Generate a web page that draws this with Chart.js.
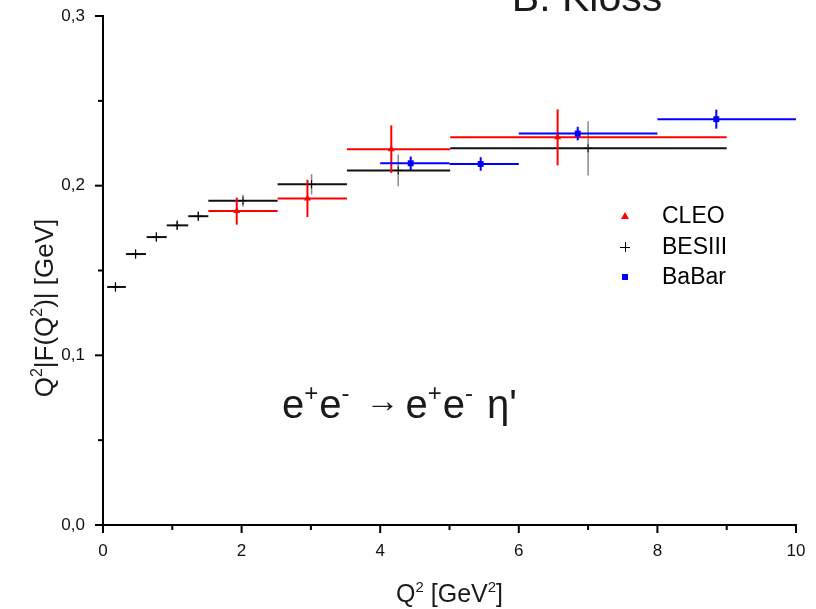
<!DOCTYPE html>
<html>
<head>
<meta charset="utf-8">
<script src="https://cdn.jsdelivr.net/npm/chart.js"></script>
<style>
  html, body { margin: 0; padding: 0; background: #fff; }
  canvas { display: block; }
</style>
</head>
<body>
<canvas id="c" width="816" height="609"></canvas>
<script>
// ---- data ----
const seriesNames = ['CLEO', 'BESIII', 'BaBar'];

const cleoQ2   = [1.93, 2.95, 4.16, 6.56];
const cleoQ2Lo = [1.52, 2.52, 3.52, 5.01];
const cleoQ2Hi = [2.52, 3.52, 5.01, 9.00];
const cleoF    = [0.185, 0.1925, 0.2215, 0.2285];
const cleoErr  = [0.008, 0.011, 0.014, 0.0165];

const besQ2   = [0.18, 0.47, 0.77, 1.07, 1.375, 2.02, 3.01, 4.26, 7.00];
const besQ2Lo = [0.06, 0.33, 0.63, 0.92, 1.23, 1.52, 2.52, 3.52, 5.01];
const besQ2Hi = [0.33, 0.62, 0.92, 1.23, 1.52, 2.52, 3.52, 5.01, 9.00];
const besF    = [0.1403, 0.1597, 0.1697, 0.1766, 0.182, 0.1911, 0.2008, 0.2090, 0.2220];
const besErr  = [0.0028, 0.0028, 0.0028, 0.0028, 0.0028, 0.0035, 0.006, 0.0094, 0.016];

const babarQ2   = [4.44, 5.45, 6.85, 8.85];
const babarQ2Lo = [4.0, 5.0, 6.0, 8.0];
const babarQ2Hi = [5.0, 6.0, 8.0, 10.0];
const babarF    = [0.2132, 0.2128, 0.2307, 0.2392];
const babarErr  = [0.004, 0.004, 0.004, 0.0056];

const xTickValues = [0, 2, 4, 6, 8, 10];
const xTickLabels = ['0', '2', '4', '6', '8', '10'];
const xMinorTicks = [1, 3, 5, 7, 9];
const yTickValues = [0, 0.1, 0.2, 0.3];
const yTickLabels = ['0,0', '0,1', '0,2', '0,3'];
const yMinorTicks = [0.05, 0.15, 0.25];

const titleText = 'B. Kloss';

// ---- build points ----
function pts(q, lo, hi, f, e) {
  return q.map((v, i) => ({ x: v, y: f[i], xMin: lo[i], xMax: hi[i], yErr: e[i] }));
}

const FONT = '"Liberation Sans", Arial, Helvetica, sans-serif';

const errorBars = {
  id: 'errorBars',
  beforeDatasetsDraw(chart) {
    const { ctx } = chart;
    const xs = chart.scales.x, ys = chart.scales.y;
    const sets = chart.data.datasets.slice().sort((a, b) => b.order - a.order);
    sets.forEach(ds => {
      ctx.save();
      ds.data.forEach(p => {
        const px = xs.getPixelForValue(p.x), py = ys.getPixelForValue(p.y);
        ctx.strokeStyle = ds.hColor; ctx.lineWidth = ds.hWidth;
        ctx.beginPath();
        ctx.moveTo(xs.getPixelForValue(p.xMin), py);
        ctx.lineTo(xs.getPixelForValue(p.xMax), py);
        ctx.stroke();
        const wide = (p.xMax - p.xMin) > 0.5;
        ctx.strokeStyle = (wide && ds.vColorWide) ? ds.vColorWide : ds.vColor;
        ctx.lineWidth = (wide && ds.vWidthWide) ? ds.vWidthWide : ds.vWidth;
        ctx.beginPath();
        ctx.moveTo(px, ys.getPixelForValue(p.y - p.yErr));
        ctx.lineTo(px, ys.getPixelForValue(p.y + p.yErr));
        ctx.stroke();
      });
      ctx.restore();
    });
  }
};

function drawRich(ctx, parts, size, x, y, align) {
  const supSize = Math.round(size * 0.6);
  let w = 0;
  parts.forEach(p => {
    ctx.font = (p.sup ? supSize : (p.size || size)) + 'px ' + FONT;
    w += ctx.measureText(p.t).width + (p.gap || 0);
  });
  let cx = align === 'center' ? x - w / 2 : x;
  parts.forEach(p => {
    const s = p.sup ? supSize : (p.size || size);
    ctx.font = s + 'px ' + FONT;
    const dy = p.sup ? -size * 0.42 : (p.dy || 0);
    ctx.fillText(p.t, cx, y + dy);
    cx += ctx.measureText(p.t).width + (p.gap || 0);
  });
}

const decor = {
  id: 'decor',
  afterDraw(chart) {
    const { ctx } = chart;
    const xs = chart.scales.x, ys = chart.scales.y;
    const ca = chart.chartArea;
    ctx.save();
    // ticks
    ctx.strokeStyle = '#000'; ctx.lineWidth = 2;
    xTickValues.forEach(v => { const p = xs.getPixelForValue(v); ctx.beginPath(); ctx.moveTo(p, ca.bottom); ctx.lineTo(p, ca.bottom + 8); ctx.stroke(); });
    xMinorTicks.forEach(v => { const p = xs.getPixelForValue(v); ctx.beginPath(); ctx.moveTo(p, ca.bottom); ctx.lineTo(p, ca.bottom + 5); ctx.stroke(); });
    yTickValues.forEach(v => { const p = ys.getPixelForValue(v); ctx.beginPath(); ctx.moveTo(ca.left, p); ctx.lineTo(ca.left - 8, p); ctx.stroke(); });
    yMinorTicks.forEach(v => { const p = ys.getPixelForValue(v); ctx.beginPath(); ctx.moveTo(ca.left, p); ctx.lineTo(ca.left - 5, p); ctx.stroke(); });

    ctx.fillStyle = '#1a1a1a';
    ctx.textBaseline = 'alphabetic';
    ctx.textAlign = 'left';
    // title (cut at the top)
    ctx.font = '41px ' + FONT;
    const tw = ctx.measureText(titleText).width;
    ctx.fillText(titleText, 587 - tw / 2, 11);

    // x axis title
    drawRich(ctx, [{t:'Q'},{t:'2',sup:true},{t:' [GeV'},{t:'2',sup:true},{t:']'}], 25, (ca.left + ca.right) / 2, 602, 'center');

    // y axis title
    ctx.save();
    ctx.translate(53, 308);
    ctx.rotate(-Math.PI / 2);
    drawRich(ctx, [{t:'Q'},{t:'2',sup:true},{t:'|F(Q'},{t:'2',sup:true},{t:')| [GeV]'}], 26, 0, 0, 'center');
    ctx.restore();

    // reaction annotation
    drawRich(ctx, [
      {t:'e'},{t:'+',sup:true, gap:1},{t:'e'},{t:'-',sup:true, gap:16},
      {t:'\u2192', size:34, dy:-6, gap:6},
      {t:'e'},{t:'+',sup:true, gap:1},{t:'e'},{t:'-',sup:true, gap:14},
      {t:'\u03b7\''}
    ], 40, 282, 418, 'left');

    // legend
    const legX = 625, legTx = 662, legY = [216, 247, 277];
    ctx.font = '23px ' + FONT;
    ctx.textBaseline = 'middle';
    seriesNames.forEach((name, i) => {
      const ds = chart.data.datasets.find(d => d.label === name);
      const y = legY[i];
      ctx.fillStyle = ds.borderColor; ctx.strokeStyle = ds.borderColor;
      if (ds.pointStyle === 'triangle') {
        ctx.beginPath(); ctx.moveTo(legX, y - 4); ctx.lineTo(legX + 4, y + 3); ctx.lineTo(legX - 4, y + 3); ctx.closePath(); ctx.fill();
      } else if (ds.pointStyle === 'cross') {
        ctx.lineWidth = 1;
        ctx.beginPath(); ctx.moveTo(legX - 5, y + 0.5); ctx.lineTo(legX + 5, y + 0.5); ctx.moveTo(legX + 0.5, y - 5); ctx.lineTo(legX + 0.5, y + 5); ctx.stroke();
      } else {
        ctx.fillRect(legX - 3, y - 3, 6, 6);
      }
      ctx.fillStyle = '#000';
      ctx.fillText(ds.label, legTx, y + 1);
    });
    ctx.restore();
  }
};

function zeroPad(s) { s.paddingTop = 0; s.paddingBottom = 0; s.paddingLeft = 0; s.paddingRight = 0; }

new Chart(document.getElementById('c'), {
  type: 'scatter',
  data: {
    datasets: [
      { label: seriesNames[0], data: pts(cleoQ2, cleoQ2Lo, cleoQ2Hi, cleoF, cleoErr),
        pointStyle: 'triangle', pointRadius: 4, borderWidth: 0, borderColor: '#ff0000', backgroundColor: '#ff0000',
        hColor: '#ff0000', hWidth: 2, vColor: '#ff0000', vWidth: 2, order: 2 },
      { label: seriesNames[1], data: pts(besQ2, besQ2Lo, besQ2Hi, besF, besErr),
        pointStyle: 'cross', pointRadius: 4, borderWidth: 1, borderColor: '#000', backgroundColor: '#000',
        hColor: '#111', hWidth: 2, vColor: '#111', vWidth: 1.2, vColorWide: '#8a8a8a', vWidthWide: 1.5, order: 3 },
      { label: seriesNames[2], data: pts(babarQ2, babarQ2Lo, babarQ2Hi, babarF, babarErr),
        pointStyle: 'rect', pointRadius: 4.2, borderWidth: 0, borderColor: '#0000ff', backgroundColor: '#0000ff',
        hColor: '#0000ff', hWidth: 2, vColor: '#0000ff', vWidth: 2, order: 1 }
    ]
  },
  options: {
    responsive: false,
    animation: false,
    layout: { padding: { top: 16, right: 20, left: 0, bottom: 0 } },
    plugins: { legend: { display: false }, tooltip: { enabled: false } },
    scales: {
      x: {
        type: 'linear', min: 0, max: 10,
        afterBuildTicks(s) { s.ticks = xTickValues.map(v => ({ value: v })); },
        ticks: { callback: (v, i) => xTickLabels[i], font: { family: FONT, size: 17 }, color: '#111', padding: 16, maxRotation: 0 },
        grid: { display: false, drawTicks: false },
        border: { display: true, color: '#000', width: 2 },
        afterFit(s) { s.height = 84; zeroPad(s); }
      },
      y: {
        type: 'linear', min: 0, max: 0.3,
        afterBuildTicks(s) { s.ticks = yTickValues.map(v => ({ value: v })); },
        ticks: { callback: (v, i) => yTickLabels[i], font: { family: FONT, size: 17 }, color: '#111', padding: 18 },
        grid: { display: false, drawTicks: false },
        border: { display: true, color: '#000', width: 2 },
        afterFit(s) { s.width = 103; zeroPad(s); }
      }
    }
  },
  plugins: [errorBars, decor]
});
</script>
</body>
</html>
